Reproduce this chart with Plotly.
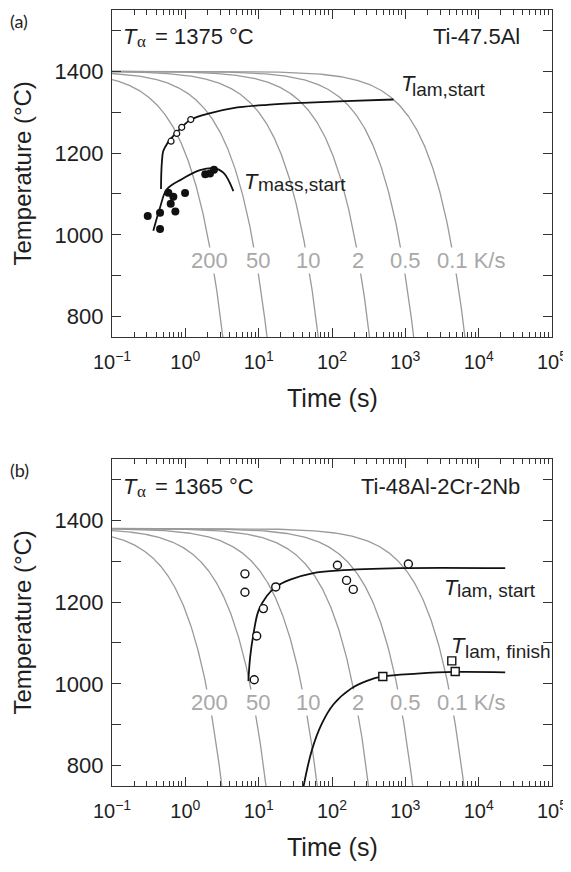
import numpy as np
import plotly.graph_objects as go

# ---------------- data ----------------
cooling_rates = [200, 50, 10, 2, 0.5, 0.1]          # K/s
rate_labels = ["200", "50", "10", "2", "0.5", "0.1 K/s"]
T_start_a = 1400   # start temperature of cooling curves, panel (a)
T_start_b = 1380   # panel (b)

# panel (a) Ti-47.5Al
lam_start_a_t = [0.466, 0.47, 0.48, 0.50, 0.575, 0.64, 0.76, 0.89, 1.19, 2.2, 4.5, 13, 40, 150, 690]
lam_start_a_T = [1112, 1150, 1180, 1205, 1225, 1236, 1250, 1263, 1282, 1298, 1310, 1318, 1323, 1327, 1331]
mass_start_a_t = [0.366, 0.452, 0.557, 0.894, 1.585, 2.41, 3.3, 4.52]
mass_start_a_T = [1010, 1067, 1111, 1136, 1158, 1163, 1152, 1107]
open_a_t = [0.638, 0.764, 0.893, 1.186]
open_a_T = [1229, 1248, 1263, 1282]
filled_a_t = [0.307, 0.452, 0.586, 0.686, 0.632, 0.731, 0.991, 0.452, 1.87, 2.17, 2.46]
filled_a_T = [1046, 1054, 1103, 1093, 1076, 1057, 1102, 1014, 1148, 1150, 1159]

# panel (b) Ti-48Al-2Cr-2Nb
lam_start_b_t = [7.24, 7.64, 8.47, 9.9, 12.9, 17.1, 26.9, 55.7, 117, 851, 23000]
lam_start_b_T = [1007, 1064, 1121, 1178, 1215, 1237, 1255, 1271, 1277, 1283, 1283]
lam_finish_b_t = [40.7, 53, 72.4, 105, 178, 299, 490, 1445, 4790, 23000]
lam_finish_b_T = [747, 837, 902, 950, 987, 1007, 1018, 1025, 1029, 1028]
open_b_t = [6.5, 6.5, 17.1, 11.6, 9.4, 8.7, 118.6, 158, 195, 1100]
open_b_T = [1269, 1224, 1237, 1184, 1117, 1010, 1290, 1253, 1231, 1293]
square_b_t = [493, 4300, 4786]
square_b_T = [1018, 1056, 1030]

x_tickvals = [0.1, 1, 10, 100, 1e3, 1e4, 1e5]
x_ticktext = ["10<sup>−1</sup>", "10<sup>0</sup>", "10<sup>1</sup>", "10<sup>2</sup>",
              "10<sup>3</sup>", "10<sup>4</sup>", "10<sup>5</sup>"]
y_tickvals = [800, 1000, 1200, 1400]

# ---------------- layout constants (pixels) ----------------
PAGE = 8                     # default body margin of the html page
W, H = 571 - PAGE, 872 - PAGE
X0, X1 = 112, 552            # plot box in window pixels
Y0, Y1 = 10, 786
L, R = X0 - PAGE, 571 - X1
T, B = Y0 - PAGE, 872 - Y1
PW = X1 - X0
PH = Y1 - Y0
OFF = 449  # vertical offset of panel (b)
FONT = "Liberation Sans, Arial, Helvetica, sans-serif"
GRAY = "#9a9a9a"
LABGRAY = "#a8a8a8"
INK = "#1e1e1e"


def px(x):
    return (x - X0) / PW


def py(y):
    return (Y1 - y) / PH


fig = go.Figure()

panels = [("x", "y", T_start_a), ("x2", "y2", T_start_b)]
for xa, ya, T0 in panels:
    for r in cooling_rates:
        t = np.logspace(-1.05, np.log10((T0 - 740) / r), 400)
        fig.add_trace(go.Scatter(x=t, y=T0 - r * t, mode="lines", xaxis=xa, yaxis=ya,
                                 line=dict(color=GRAY, width=1.3), hoverinfo="skip",
                                 showlegend=False))

black = dict(color="#111111", width=1.8)
fig.add_trace(go.Scatter(x=lam_start_a_t, y=lam_start_a_T, mode="lines", line=dict(**black, shape="spline"),
                         xaxis="x", yaxis="y", showlegend=False))
fig.add_trace(go.Scatter(x=mass_start_a_t, y=mass_start_a_T, mode="lines", line=dict(**black, shape="spline"),
                         xaxis="x", yaxis="y", showlegend=False))
fig.add_trace(go.Scatter(x=open_a_t, y=open_a_T, mode="markers",
                         marker=dict(symbol="circle", size=6, color="white", line=dict(color="#111", width=1.2)),
                         xaxis="x", yaxis="y", showlegend=False))
fig.add_trace(go.Scatter(x=filled_a_t, y=filled_a_T, mode="markers",
                         marker=dict(symbol="circle", size=8, color="#111"),
                         xaxis="x", yaxis="y", showlegend=False))

fig.add_trace(go.Scatter(x=lam_start_b_t, y=lam_start_b_T, mode="lines", line=dict(**black, shape="spline"),
                         xaxis="x2", yaxis="y2", showlegend=False))
fig.add_trace(go.Scatter(x=lam_finish_b_t, y=lam_finish_b_T, mode="lines", line=dict(**black, shape="spline"),
                         xaxis="x2", yaxis="y2", showlegend=False))
fig.add_trace(go.Scatter(x=open_b_t, y=open_b_T, mode="markers",
                         marker=dict(symbol="circle", size=8, color="white", line=dict(color="#111", width=1.4)),
                         xaxis="x2", yaxis="y2", showlegend=False))
fig.add_trace(go.Scatter(x=square_b_t, y=square_b_T, mode="markers",
                         marker=dict(symbol="square", size=8, color="white", line=dict(color="#111", width=1.4)),
                         xaxis="x2", yaxis="y2", showlegend=False))

minor_x = [m * 10.0 ** k for k in range(-1, 5) for m in range(2, 10)]

axis_common = dict(showline=True, linecolor="#333", linewidth=1.3, mirror="ticks",
                   ticks="inside", ticklen=9, tickwidth=1.2, tickcolor="#333",
                   showgrid=False, zeroline=False)

xaxis = dict(type="log", range=[-1, 5], tickvals=x_tickvals, ticktext=x_ticktext,
             tickfont=dict(family=FONT, size=20, color=INK),
             minor=dict(tickvals=minor_x, ticks="inside", ticklen=5, tickwidth=1.1, tickcolor="#333"),
             ticklabelstandoff=7, **axis_common)
yaxis = dict(range=[750, 1550], tickvals=y_tickvals,
             tickfont=dict(family=FONT, size=22, color=INK),
             minor=dict(dtick=100, tick0=700, ticks="inside", ticklen=9, tickwidth=1.2, tickcolor="#333"),
             ticklabelstandoff=3, **axis_common)

dom_a = [py(337), 1.0]
dom_b = [0.0, py(Y0 + OFF)]

fig.update_layout(
    width=W, height=H,
    margin=dict(l=L, r=R, t=T, b=B),
    paper_bgcolor="white", plot_bgcolor="white",
    xaxis=dict(domain=[0, 1], anchor="y", **xaxis),
    yaxis=dict(domain=dom_a, anchor="x", **yaxis),
    xaxis2=dict(domain=[0, 1], anchor="y2", **xaxis),
    yaxis2=dict(domain=dom_b, anchor="x2", **yaxis),
    font=dict(family=FONT, color=INK),
)

ann = []


def text(x, y, s, size, xanchor="left", color=INK, family=FONT, angle=0, bg=None):
    d = dict(x=px(x), y=py(y), xref="paper", yref="paper", text=s, showarrow=False,
             xanchor=xanchor, yanchor="middle", textangle=angle,
             font=dict(family=family, size=size, color=color), borderpad=0)
    if bg:
        d["bgcolor"] = bg
    ann.append(d)


label_px = [209, 258, 308, 358, 405, 470.5]
for k, (ya_off, tag, alloy, ta) in enumerate([(0, "(a)", "Ti-47.5Al", "= 1375 °C"),
                                               (OFF, "(b)", "Ti-48Al-2Cr-2Nb", "= 1365 °C")]):
    text(9, 21 + ya_off, tag, 18, family="Lato, Noto Sans, sans-serif")
    text(122, 37 + ya_off, "<i>T</i>", 22)
    text(136, 42 + ya_off, "α", 17, family="Liberation Serif, DejaVu Serif, serif")
    text(154, 37 + ya_off, ta, 22)
    text(521, 37 + ya_off, alloy, 22, xanchor="right")
    text(22, 173.5 + ya_off, "Temperature (°C)", 24, xanchor="center", angle=-90)
    text(332, 398 + ya_off, "Time (s)", 25, xanchor="center")
    ly = 261 if k == 0 else 702 - OFF
    for lx, lab in zip(label_px, rate_labels):
        text(lx, ly + ya_off, lab, 22, xanchor="center", color=LABGRAY, bg="white")

# curve labels
text(400, 83, "<i>T</i>", 22)
text(411, 90, "lam,start", 19)
text(243, 181.5, "<i>T</i>", 22)
text(257, 184.5, "mass,start", 19)
text(443, 587.5, "<i>T</i>", 22)
text(456, 590, "lam, start", 19)
text(450, 645, "<i>T</i>", 22)
text(464, 651, "lam, finish", 19)

fig.update_layout(annotations=ann)
fig.write_html("out.html")
